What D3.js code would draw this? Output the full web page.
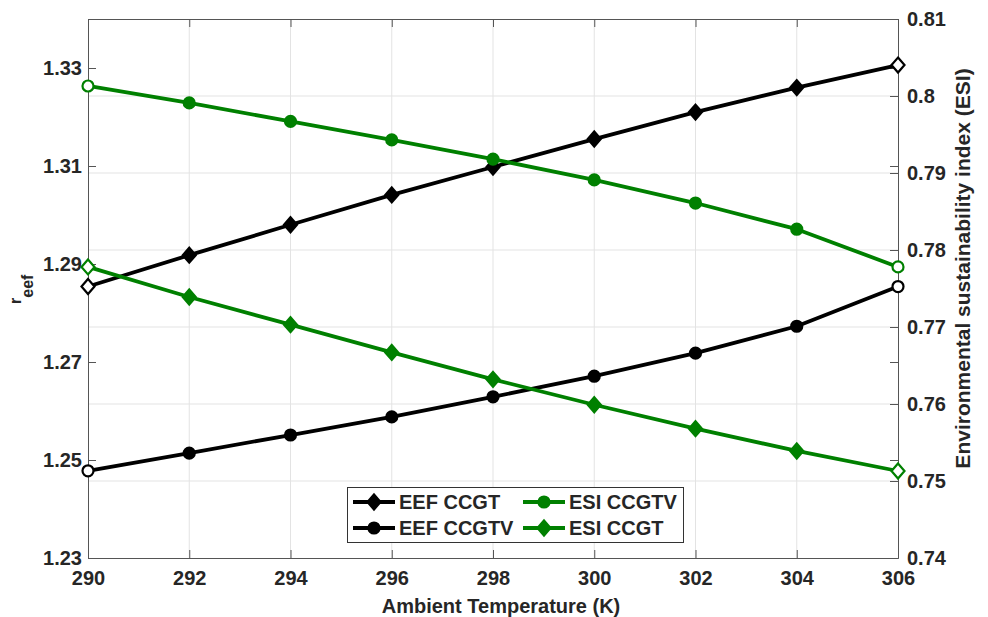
<!DOCTYPE html>
<html>
  <head>
    <meta charset="utf-8" />
    <title>EEF / ESI vs Ambient Temperature</title>
    <script src="https://d3js.org/d3.v7.min.js"></script>
    <style>

      body {
        margin: 0;
        background: #fff;
      }

      text {
        font-family: "Liberation Sans", Arial, sans-serif;
        font-weight: bold;
        fill: #262626;
      }

    </style>
  </head>
  <body>

    <svg id="viz"></svg>

    <script>

      // data
      var temps = [290, 292, 294, 296, 298, 300, 302, 304, 306];
      var eefCCGT  = [1.2854, 1.2918, 1.2980, 1.3041, 1.3098, 1.3155, 1.3210, 1.3260, 1.3306];
      var eefCCGTV = [1.2478, 1.2514, 1.2551, 1.2588, 1.2629, 1.2671, 1.2718, 1.2773, 1.2854];
      var esiCCGTV = [0.8013, 0.7991, 0.7967, 0.7943, 0.7918, 0.7891, 0.7861, 0.7827, 0.7778];
      var esiCCGT  = [0.7778, 0.7739, 0.7703, 0.7667, 0.7632, 0.7599, 0.7568, 0.7539, 0.7513];

      var xTicks = [290, 292, 294, 296, 298, 300, 302, 304, 306];
      var leftTicks = [1.23, 1.25, 1.27, 1.29, 1.31, 1.33];
      var rightTicks = [0.74, 0.75, 0.76, 0.77, 0.78, 0.79, 0.8, 0.81];

      var width = 988;
      var height = 617;
      var margin = {top: 19, right: 90, bottom: 59, left: 88};
      var w = width - margin.left - margin.right;
      var h = height - margin.top - margin.bottom;

      var green = "#008000";
      var axisColor = "#555";

      var svg = d3.select("#viz")
        .attr("width", width)
        .attr("height", height);

      var g = svg.append("g")
        .attr("transform", "translate(" + margin.left + "," + margin.top + ")");

      var x = d3.scaleLinear().domain([290, 306]).range([0, w]);
      var yL = d3.scaleLinear().domain([1.23, 1.34]).range([h, 0]);
      var yR = d3.scaleLinear().domain([0.74, 0.81]).range([h, 0]);

      // grid (follows right axis, like the active yyaxis)
      g.append("g").selectAll("line")
        .data(xTicks.slice(1, -1))
        .enter().append("line")
        .attr("x1", function(d) { return x(d); })
        .attr("x2", function(d) { return x(d); })
        .attr("y1", 0).attr("y2", h)
        .attr("stroke", "#e3e3e3").attr("stroke-width", 1);

      g.append("g").selectAll("line")
        .data(rightTicks.slice(1, -1))
        .enter().append("line")
        .attr("y1", function(d) { return yR(d); })
        .attr("y2", function(d) { return yR(d); })
        .attr("x1", 0).attr("x2", w)
        .attr("stroke", "#e3e3e3").attr("stroke-width", 1);

      // axes, ticks pointing inward
      var fmtL = d3.format(".2f");
      var fmtR = function(d) { return String(+d.toFixed(2)); };

      var axB = g.append("g")
        .attr("transform", "translate(0," + h + ")")
        .call(d3.axisBottom(x).tickValues(xTicks).tickSizeInner(-8).tickSizeOuter(0).tickPadding(13));
      var axT = g.append("g")
        .call(d3.axisTop(x).tickValues(xTicks).tickSizeInner(-8).tickSizeOuter(0).tickFormat(""));
      var axL = g.append("g")
        .call(d3.axisLeft(yL).tickValues(leftTicks).tickFormat(fmtL).tickSizeInner(-8).tickSizeOuter(0).tickPadding(6));
      var axR = g.append("g")
        .attr("transform", "translate(" + w + ",0)")
        .call(d3.axisRight(yR).tickValues(rightTicks).tickFormat(fmtR).tickSizeInner(-8).tickSizeOuter(0).tickPadding(9));
      var axR2 = g.append("g")
        .attr("transform", "translate(" + w + ",0)")
        .call(d3.axisRight(yL).tickValues(leftTicks).tickSizeInner(-8).tickSizeOuter(0).tickFormat(""));

      [axB, axT, axL, axR, axR2].forEach(function(a) {
        a.selectAll("path, line").attr("stroke", axisColor);
        a.selectAll("text")
          .attr("font-size", "20px")
          .style("fill", "#262626");
        a.attr("font-family", null);
      });
      axB.selectAll("text").attr("dy", "0.71em");

      // axis labels
      svg.append("text")
        .attr("x", margin.left + w / 2 + 8)
        .attr("y", 613)
        .attr("text-anchor", "middle")
        .attr("font-size", "20px")
        .text("Ambient Temperature (K)");

      svg.append("text")
        .attr("transform", "translate(970," + (margin.top + h / 2 - 20) + ") rotate(-90)")
        .attr("text-anchor", "middle")
        .attr("font-size", "21px")
        .text("Environmental sustainability index (ESI)");

      var rl = svg.append("text")
        .attr("transform", "translate(21,304) rotate(-90)")
        .attr("font-size", "16px");
      rl.append("tspan").text("r");
      rl.append("tspan").attr("dy", 12).text("eef");

      // series
      var series = [
        {name: "EEF CCGT", values: eefCCGT, y: yL, color: "#000", marker: "diamond"},
        {name: "EEF CCGTV", values: eefCCGTV, y: yL, color: "#000", marker: "circle"},
        {name: "ESI CCGTV", values: esiCCGTV, y: yR, color: green, marker: "circle"},
        {name: "ESI CCGT", values: esiCCGT, y: yR, color: green, marker: "diamond"}
      ];

      var diamond = "M0,-7.5L6.5,0L0,7.5L-6.5,0Z";

      function addMarker(sel, s, cx, cy, hollow) {
        if (s.marker === "diamond") {
          sel.append("path")
            .attr("d", diamond)
            .attr("transform", "translate(" + cx + "," + cy + ")")
            .attr("fill", hollow ? "#fff" : s.color)
            .attr("stroke", s.color)
            .attr("stroke-width", 2.2);
        } else {
          sel.append("circle")
            .attr("cx", cx).attr("cy", cy)
            .attr("r", 5.5)
            .attr("fill", hollow ? "#fff" : s.color)
            .attr("stroke", s.color)
            .attr("stroke-width", 2.2);
        }
      }

      series.forEach(function(s) {
        var line = d3.line()
          .x(function(d, i) { return x(temps[i]); })
          .y(function(d) { return s.y(d); });

        g.append("path")
          .datum(s.values)
          .attr("d", line)
          .attr("fill", "none")
          .attr("stroke", s.color)
          .attr("stroke-width", 3.8)
          .attr("stroke-linejoin", "round");

        var mg = g.append("g");
        s.values.forEach(function(v, i) {
          var ends = i === 0 || i === s.values.length - 1;
          addMarker(mg, s, x(temps[i]), s.y(v), ends);
        });
      });

      // legend
      var leg = svg.append("g");
      leg.append("rect")
        .attr("x", 347.5).attr("y", 487.5)
        .attr("width", 336).attr("height", 55)
        .attr("fill", "#fff")
        .attr("stroke", "#333").attr("stroke-width", 1);

      var legendItems = [
        {s: series[0], x: 353, y: 502},
        {s: series[1], x: 353, y: 528},
        {s: series[2], x: 523, y: 502},
        {s: series[3], x: 523, y: 528}
      ];

      legendItems.forEach(function(it) {
        leg.append("line")
          .attr("x1", it.x).attr("x2", it.x + 42)
          .attr("y1", it.y).attr("y2", it.y)
          .attr("stroke", it.s.color).attr("stroke-width", 3.8);
        addMarker(leg, it.s, it.x + 21, it.y, false);
        leg.append("text")
          .attr("x", it.x + 46)
          .attr("y", it.y)
          .attr("dy", "0.36em")
          .attr("font-size", "20px")
          .text(it.s.name);
      });

    </script>
  </body>
</html>
